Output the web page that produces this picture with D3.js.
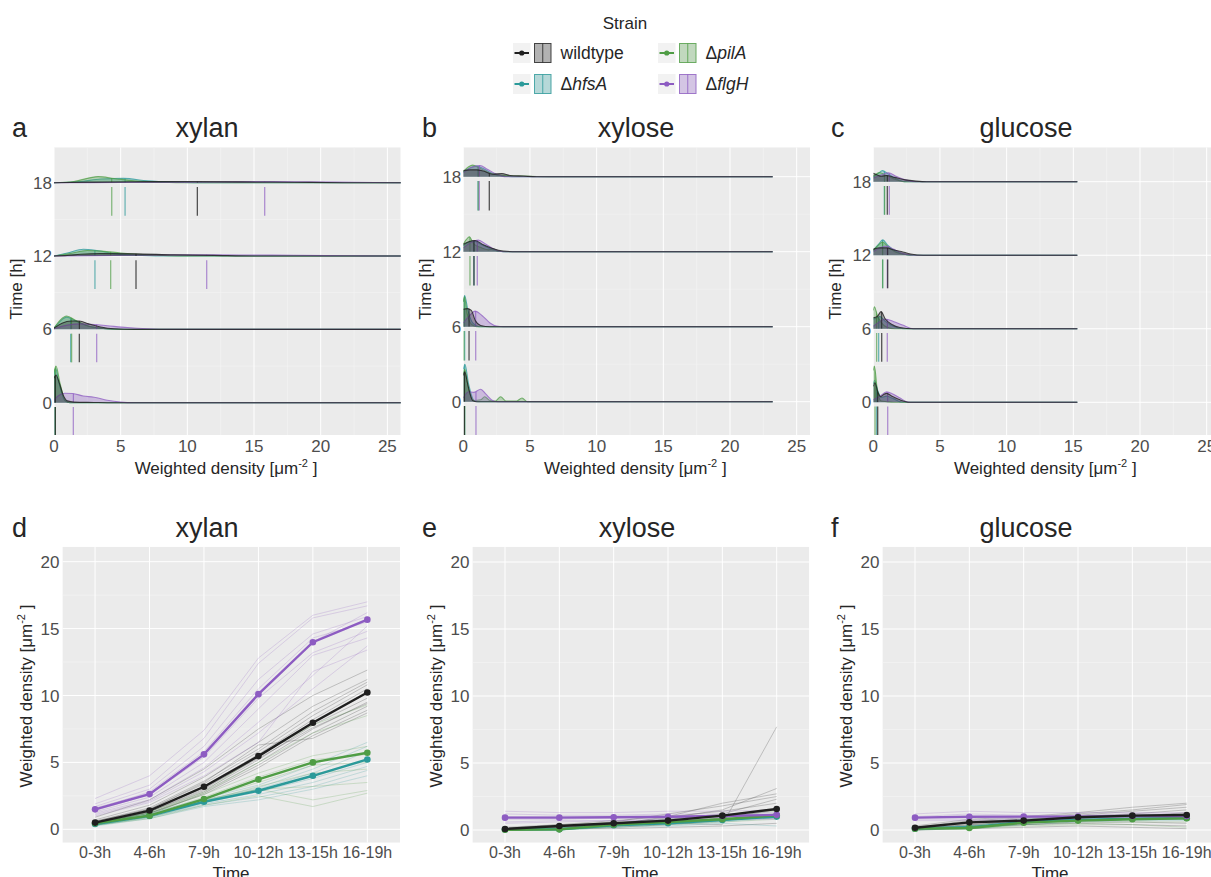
<!DOCTYPE html>
<html lang="en">
<head>
<meta charset="UTF-8">
<title>Weighted density by strain and carbon source</title>
<script src="https://cdnjs.cloudflare.com/ajax/libs/d3/7.8.5/d3.min.js"></script>
<style>
  body { margin: 0; background: #fff; }
  svg { display: block; font-family: "Liberation Sans", Arial, sans-serif; }
  .tick-label { font-size: 17px; fill: #4d4d4d; }
  .bin-label { font-size: 16px; fill: #4d4d4d; }
  .axis-title { font-size: 17px; fill: #262626; }
  .panel-title { font-size: 27px; fill: #262626; }
</style>
</head>
<body>
<svg id="chart" width="1211" height="877"></svg>
<script>
// ---- data ----
const strains = ["wildtype", "hfsA", "pilA", "flgH"];
const strainColors = { wildtype: "#1f1f1f", hfsA: "#2b9a9a", pilA: "#4f9d45", flgH: "#8d5cc2" };
const ridgeTimes = [0, 6, 12, 18];
const ridgeXTicks = [0, 5, 10, 15, 20, 25];
const timeBins = ["0-3h", "4-6h", "7-9h", "10-12h", "13-15h", "16-19h"];
const lineYTicks = [0, 5, 10, 15, 20];

// ridge curves: [x, height in hours-units above the baseline], mean = vertical marker
const ridgeXylan = [
  { strain: "wildtype", time: 0, mean: 0.1, pts: [[0, 2.0], [0.15, 2.27], [0.4, 1.6], [0.7, 0.6], [1.0, 0.15], [1.5, 0.05], [3, 0.02], [4, 0]] },
  { strain: "hfsA", time: 0, mean: 0.08, pts: [[0, 2.3], [0.12, 2.8], [0.4, 1.5], [0.8, 0.2], [1.2, 0]] },
  { strain: "pilA", time: 0, mean: 0.1, pts: [[0, 2.5], [0.15, 3.0], [0.45, 1.6], [0.85, 0.15], [1.2, 0]] },
  { strain: "flgH", time: 0, mean: 1.45, pts: [[0, 0.2], [0.3, 0.55], [0.8, 0.77], [1.4, 0.75], [2.2, 0.55], [3.0, 0.45], [4.0, 0.2], [5.0, 0.05], [6, 0]] },
  { strain: "wildtype", time: 6, mean: 1.9, pts: [[0, 0.1], [0.6, 0.5], [1.3, 0.68], [1.9, 0.68], [2.6, 0.45], [3.5, 0.2], [4.5, 0.05], [6, 0]] },
  { strain: "hfsA", time: 6, mean: 1.25, pts: [[0, 0.1], [0.5, 0.7], [0.95, 1.0], [1.6, 0.7], [2.5, 0.3], [3.5, 0.1], [5, 0]] },
  { strain: "pilA", time: 6, mean: 1.32, pts: [[0, 0.1], [0.5, 0.8], [0.95, 1.09], [1.6, 0.75], [2.5, 0.3], [3.5, 0.1], [5, 0]] },
  { strain: "flgH", time: 6, mean: 3.2, pts: [[0, 0.05], [1, 0.35], [2, 0.45], [3, 0.4], [4, 0.3], [5.5, 0.15], [7, 0.05], [8.5, 0]] },
  { strain: "wildtype", time: 12, mean: 6.15, pts: [[0, 0], [1, 0.05], [2, 0.15], [3.5, 0.2], [6, 0.18], [9, 0.1], [12, 0.05], [15, 0]] },
  { strain: "hfsA", time: 12, mean: 3.07, pts: [[0, 0], [1, 0.25], [2.2, 0.55], [3.2, 0.45], [4.5, 0.2], [6, 0.08], [8, 0]] },
  { strain: "pilA", time: 12, mean: 4.25, pts: [[0, 0], [1.2, 0.2], [2.5, 0.45], [3.6, 0.4], [5, 0.25], [7, 0.1], [10, 0]] },
  { strain: "flgH", time: 12, mean: 11.45, pts: [[0, 0], [3, 0.03], [6, 0.08], [10, 0.1], [14, 0.09], [18, 0.06], [22, 0.02], [25, 0]] },
  { strain: "wildtype", time: 18, mean: 10.75, pts: [[0, 0], [3, 0.05], [6, 0.08], [10, 0.1], [14, 0.07], [18, 0.04], [22, 0]] },
  { strain: "hfsA", time: 18, mean: 5.33, pts: [[0, 0], [2, 0.1], [3.5, 0.3], [5.2, 0.35], [7, 0.15], [9, 0.05], [12, 0]] },
  { strain: "pilA", time: 18, mean: 4.33, pts: [[0, 0], [1.5, 0.1], [3.3, 0.5], [4.5, 0.35], [6, 0.15], [8, 0.05], [10, 0]] },
  { strain: "flgH", time: 18, mean: 15.8, pts: [[0, 0], [5, 0.02], [10, 0.05], [15, 0.09], [18, 0.08], [21, 0.05], [24, 0.02], [26, 0]] }
];

const ridgeXylose = [
  { strain: "wildtype", time: 0, mean: 0.08, pts: [[0, 2.1], [0.1, 2.4], [0.35, 1.3], [0.7, 0.1], [1, 0]] },
  { strain: "hfsA", time: 0, mean: 0.1, pts: [[0, 2.6], [0.12, 3.0], [0.4, 1.4], [0.8, 0.1], [1.1, 0]] },
  { strain: "pilA", time: 0, mean: 0.1, pts: [[0, 2.2], [0.1, 2.6], [0.4, 1.0], [0.8, 0.1], [1.3, 0.15], [1.6, 0.4], [2.0, 0.1], [2.4, 0.05], [2.8, 0.4], [3.2, 0.05], [4.0, 0.05], [4.4, 0.3], [4.8, 0]] },
  { strain: "flgH", time: 0, mean: 0.95, pts: [[0, 0.3], [0.4, 0.8], [0.8, 0.75], [1.3, 1.0], [1.7, 0.6], [2.2, 0.1], [2.6, 0]] },
  { strain: "wildtype", time: 6, mean: 0.43, pts: [[0, 1.4], [0.3, 1.45], [0.6, 1.3], [0.9, 0.5], [1.3, 0.1], [2, 0]] },
  { strain: "hfsA", time: 6, mean: 0.1, pts: [[0, 2.0], [0.1, 2.5], [0.35, 1.3], [0.7, 0.3], [1.2, 0]] },
  { strain: "pilA", time: 6, mean: 0.05, pts: [[0, 2.0], [0.08, 2.4], [0.3, 1.0], [0.6, 0.2], [1.0, 0]] },
  { strain: "flgH", time: 6, mean: 0.93, pts: [[0, 0.3], [0.4, 0.8], [0.88, 1.25], [1.4, 0.9], [2, 0.3], [2.5, 0.05], [3, 0]] },
  { strain: "wildtype", time: 12, mean: 0.8, pts: [[0, 0.6], [0.4, 0.8], [0.88, 0.9], [1.5, 0.55], [2.2, 0.25], [3, 0.05], [4, 0]] },
  { strain: "hfsA", time: 12, mean: 0.8, pts: [[0, 0.5], [0.4, 0.75], [0.8, 0.85], [1.4, 0.55], [2.2, 0.15], [3, 0]] },
  { strain: "pilA", time: 12, mean: 0.5, pts: [[0, 0.6], [0.25, 1.0], [0.45, 1.2], [0.8, 0.6], [1.4, 0.3], [1.9, 0.15], [2.2, 0.25], [2.6, 0.05], [3.2, 0]] },
  { strain: "flgH", time: 12, mean: 1.05, pts: [[0, 0.3], [0.5, 0.7], [1.13, 0.93], [1.7, 0.6], [2.4, 0.15], [3, 0]] },
  { strain: "wildtype", time: 18, mean: 1.95, pts: [[0, 0.5], [0.5, 0.55], [1.0, 0.55], [1.5, 0.45], [2.2, 0.2], [2.9, 0.25], [3.5, 0.1], [4.5, 0.05], [5.5, 0]] },
  { strain: "hfsA", time: 18, mean: 1.1, pts: [[0, 0.4], [0.5, 0.7], [1.0, 0.85], [1.5, 0.65], [2.2, 0.25], [3, 0.05], [4, 0]] },
  { strain: "pilA", time: 18, mean: 1.13, pts: [[0, 0.4], [0.4, 0.8], [0.7, 0.93], [1.2, 0.7], [2, 0.3], [3, 0.1], [4.5, 0.05], [6.7, 0]] },
  { strain: "flgH", time: 18, mean: 1.2, pts: [[0, 0.3], [0.6, 0.75], [1.25, 0.9], [1.8, 0.6], [2.5, 0.2], [3.2, 0]] }
];

const ridgeGlucose = [
  { strain: "wildtype", time: 0, mean: 0.33, pts: [[0, 1.3], [0.12, 1.6], [0.35, 0.8], [0.55, 0.45], [0.8, 0.65], [1.0, 0.73], [1.4, 0.5], [2.0, 0.2], [2.75, 0]] },
  { strain: "hfsA", time: 0, mean: 0.25, pts: [[0, 1.5], [0.1, 1.8], [0.35, 0.9], [0.6, 0.4], [1.0, 0.5], [1.5, 0.3], [2.2, 0]] },
  { strain: "pilA", time: 0, mean: 0.13, pts: [[0, 2.6], [0.08, 2.95], [0.3, 1.0], [0.6, 0.1], [1.0, 0.05], [1.5, 0]] },
  { strain: "flgH", time: 0, mean: 1.08, pts: [[0, 0.2], [0.5, 0.5], [1.0, 0.85], [1.5, 0.65], [2.0, 0.35], [2.5, 0.05], [3, 0]] },
  { strain: "wildtype", time: 6, mean: 0.63, pts: [[0, 0.9], [0.3, 1.0], [0.58, 1.4], [0.9, 0.8], [1.4, 0.35], [2, 0.1], [3, 0]] },
  { strain: "hfsA", time: 6, mean: 0.4, pts: [[0, 0.8], [0.3, 0.9], [0.5, 1.0], [0.9, 0.6], [1.5, 0.2], [2.3, 0]] },
  { strain: "pilA", time: 6, mean: 0.25, pts: [[0, 1.5], [0.08, 1.8], [0.3, 1.1], [0.6, 0.5], [1.0, 0.15], [1.6, 0]] },
  { strain: "flgH", time: 6, mean: 1.05, pts: [[0, 0.2], [0.5, 0.6], [0.88, 0.8], [1.5, 0.6], [2.2, 0.3], [3.0, 0]] },
  { strain: "wildtype", time: 12, mean: 1.08, pts: [[0, 0.5], [0.5, 0.6], [1.0, 0.6], [1.5, 0.45], [2.1, 0.3], [2.8, 0.1], [3.75, 0]] },
  { strain: "hfsA", time: 12, mean: 0.7, pts: [[0, 0.4], [0.4, 0.9], [0.7, 1.25], [1.1, 0.8], [1.7, 0.3], [2.5, 0.05], [3, 0]] },
  { strain: "pilA", time: 12, mean: 0.7, pts: [[0, 0.4], [0.4, 0.85], [0.7, 1.08], [1.1, 0.7], [1.7, 0.25], [2.5, 0.05], [3, 0]] },
  { strain: "flgH", time: 12, mean: 1.05, pts: [[0, 0.3], [0.5, 0.6], [1.0, 0.75], [1.5, 0.5], [2.2, 0.15], [3, 0]] },
  { strain: "wildtype", time: 18, mean: 1.05, pts: [[0, 0.68], [0.3, 0.55], [0.6, 0.45], [1.0, 0.5], [1.6, 0.35], [2.4, 0.15], [3.2, 0.05], [4, 0]] },
  { strain: "hfsA", time: 18, mean: 0.83, pts: [[0, 0.4], [0.4, 0.7], [0.68, 0.9], [1.1, 0.65], [1.7, 0.25], [2.5, 0]] },
  { strain: "pilA", time: 18, mean: 0.85, pts: [[0, 0.5], [0.25, 0.65], [0.45, 0.75], [0.9, 0.55], [1.5, 0.25], [2.3, 0]] },
  { strain: "flgH", time: 18, mean: 1.2, pts: [[0, 0.3], [0.6, 0.55], [1.13, 0.73], [1.7, 0.45], [2.4, 0.15], [3.2, 0]] }
];

// strain means per time bin (bold lines)
const meanXylan = {
  wildtype: [0.5, 1.4, 3.18, 5.47, 7.96, 10.22],
  hfsA: [0.4, 1.0, 2.06, 2.88, 4.0, 5.22],
  pilA: [0.45, 1.02, 2.26, 3.73, 5.0, 5.72],
  flgH: [1.49, 2.63, 5.6, 10.1, 13.98, 15.67]
};
const meanXylose = {
  wildtype: [0.08, 0.3, 0.5, 0.7, 1.07, 1.57],
  hfsA: [0.03, 0.06, 0.35, 0.5, 0.75, 1.0],
  pilA: [0.02, 0.05, 0.4, 0.6, 0.8, 1.1],
  flgH: [0.92, 0.92, 0.95, 0.99, 1.05, 1.13]
};
const meanGlucose = {
  wildtype: [0.17, 0.57, 0.7, 0.95, 1.07, 1.12],
  hfsA: [0.1, 0.2, 0.6, 0.75, 0.85, 0.9],
  pilA: [0.1, 0.15, 0.55, 0.7, 0.8, 0.88],
  flgH: [0.92, 0.99, 1.0, 1.0, 1.05, 1.05]
};

// single-experiment traces (thin lines)
const tracesXylan = {
  wildtype: [
    [0.9, 2.2, 4.5, 7.5, 10.0, 11.9], [0.7, 1.8, 3.9, 6.5, 9.2, 11.2], [0.6, 1.6, 3.6, 6.0, 8.8, 11.0],
    [0.55, 1.5, 3.4, 5.8, 8.5, 10.8], [0.5, 1.4, 3.2, 5.6, 8.2, 10.5], [0.45, 1.3, 3.0, 5.4, 8.0, 10.2],
    [0.4, 1.3, 2.9, 5.2, 7.8, 9.8], [0.5, 1.2, 2.8, 5.0, 7.5, 9.5], [0.35, 1.1, 2.7, 4.8, 7.2, 9.2],
    [0.4, 1.2, 2.6, 4.6, 7.0, 8.9], [0.6, 1.5, 3.5, 6.3, 6.8, 8.7], [0.5, 1.4, 3.1, 5.3, 7.6, 9.4]
  ],
  hfsA: [
    [0.5, 1.2, 2.3, 3.3, 4.8, 6.5], [0.45, 1.1, 2.2, 3.1, 4.5, 6.2], [0.4, 1.0, 2.1, 3.0, 4.2, 5.8],
    [0.35, 1.0, 2.0, 2.8, 3.8, 5.0], [0.3, 0.9, 1.9, 2.6, 3.5, 4.7], [0.3, 0.9, 1.8, 2.4, 3.2, 4.4],
    [0.25, 0.8, 1.7, 2.2, 3.0, 4.0]
  ],
  pilA: [
    [0.5, 1.2, 2.6, 4.2, 5.5, 6.2], [0.45, 1.1, 2.4, 3.9, 5.2, 5.6], [0.4, 1.0, 2.3, 3.5, 4.8, 5.0],
    [0.35, 1.0, 2.1, 3.2, 4.2, 4.5], [0.3, 0.9, 2.0, 3.0, 3.2, 3.5], [0.4, 1.0, 2.2, 3.0, 2.2, 2.9],
    [0.3, 0.8, 1.8, 2.5, 1.7, 2.7], [0.5, 1.3, 2.8, 5.5, 7.8, 9.3], [0.45, 1.2, 2.7, 5.0, 7.2, 8.5]
  ],
  flgH: [
    [2.3, 4.0, 7.4, 12.8, 16.0, 17.0], [1.9, 3.3, 6.8, 12.4, 15.8, 16.7], [1.7, 3.0, 6.2, 11.2, 14.6, 15.9],
    [1.5, 2.8, 5.8, 10.5, 14.3, 15.5], [1.4, 2.6, 5.4, 9.8, 13.2, 14.8], [1.3, 2.4, 5.0, 9.0, 13.0, 14.3],
    [1.2, 2.2, 4.6, 8.0, 11.5, 15.2], [1.1, 2.1, 4.3, 7.2, 10.5, 13.7], [1.0, 2.0, 4.0, 6.5, 11.8, 13.4],
    [1.6, 2.7, 5.6, 10.0, 14.0, 16.2]
  ]
};
const tracesXylose = {
  wildtype: [
    [0.1, 0.3, 0.5, 0.9, 1.5, 3.1], [0.05, 0.2, 0.4, 1.0, 2.0, 2.7], [0.1, 0.3, 0.6, 1.2, 1.8, 2.5],
    [0.0, 0.2, 0.4, 0.8, 1.2, 2.3], [0.1, 0.4, 0.7, 1.0, 1.4, 2.0], [0.0, 0.1, 0.3, 0.5, 0.4, 7.7],
    [0.1, 0.2, 0.4, 0.6, 0.9, 1.5], [0.0, 0.1, 0.2, 0.4, 0.7, 1.2], [0.2, 0.4, 0.5, 0.6, 0.8, 0.9],
    [0.0, 0.1, 0.1, 0.2, 0.3, 0.5]
  ],
  hfsA: [
    [0.0, 0.1, 0.4, 0.6, 0.8, 1.1], [0.0, 0.05, 0.3, 0.4, 0.6, 0.9], [0.1, 0.1, 0.35, 0.5, 0.8, 1.0],
    [0.0, 0.0, 0.2, 0.3, 0.5, 0.3]
  ],
  pilA: [
    [0.0, 0.1, 0.5, 0.8, 1.0, 1.4], [0.0, 0.0, 0.3, 0.5, 0.7, 1.0], [0.05, 0.1, 0.4, 0.6, 0.9, 1.2],
    [0.0, 0.0, 0.2, 0.4, 0.6, 0.8]
  ],
  flgH: [
    [1.4, 1.3, 1.3, 1.4, 1.4, 1.5], [1.2, 1.1, 1.1, 1.2, 1.2, 1.3], [1.0, 1.0, 1.0, 1.0, 1.1, 1.2],
    [0.8, 0.8, 0.9, 0.9, 1.0, 1.0], [0.6, 0.7, 0.7, 0.8, 0.9, 0.9], [0.5, 0.6, 0.7, 0.7, 0.8, 0.8]
  ]
};
const tracesGlucose = {
  wildtype: [
    [0.3, 0.8, 1.0, 1.3, 1.7, 2.0], [0.2, 0.7, 0.9, 1.2, 1.5, 1.9], [0.1, 0.6, 0.8, 1.1, 1.4, 1.7],
    [0.2, 0.5, 0.7, 1.0, 1.2, 1.5], [0.1, 0.4, 0.6, 0.9, 1.0, 1.3], [0.0, 0.3, 0.5, 0.8, 0.9, 1.0],
    [0.1, 0.4, 0.6, 0.7, 0.8, 0.8], [0.0, 0.2, 0.4, 0.6, 0.6, 0.5], [0.1, 0.3, 0.4, 0.5, 0.4, 0.3],
    [0.0, 0.1, 0.2, 0.3, 0.2, 0.1]
  ],
  hfsA: [
    [0.2, 0.3, 0.8, 0.9, 1.0, 1.1], [0.1, 0.2, 0.6, 0.7, 0.8, 0.9], [0.0, 0.1, 0.4, 0.6, 0.7, 0.7]
  ],
  pilA: [
    [0.2, 0.3, 0.8, 1.0, 1.1, 1.2], [0.1, 0.1, 0.5, 0.7, 0.8, 0.9], [0.0, 0.1, 0.4, 0.5, 0.6, 0.6],
    [0.1, 0.1, 0.3, 0.4, 0.4, 0.2]
  ],
  flgH: [
    [1.2, 1.4, 1.3, 1.3, 1.3, 1.3], [1.0, 1.2, 1.1, 1.1, 1.2, 1.2], [0.9, 1.0, 1.0, 1.0, 1.0, 1.1],
    [0.8, 0.8, 0.9, 0.9, 0.9, 1.0], [0.7, 0.7, 0.8, 0.8, 0.8, 0.9]
  ]
};

// ---- drawing ----
const W = 1211, H = 877;
const svg = d3.select("#chart");
const drawOrder = ["hfsA", "pilA", "flgH", "wildtype"];

function unitTitle(text) {
    text.append("tspan").text("Weighted density [μm");
    text.append("tspan").attr("dy", -7).attr("font-size", 11).text("-2");
    text.append("tspan").attr("dy", 7).text(" ]");
}

function panelHeader(letter, title, letterX, titleX, baseline) {
    svg.append("text").attr("class", "panel-title").attr("x", letterX).attr("y", baseline).text(letter);
    svg.append("text").attr("class", "panel-title").attr("x", titleX).attr("y", baseline)
        .attr("text-anchor", "middle").text(title);
}

function drawRidgePanel(p) {
    const top = 147.3, bottom = 435;
    const x = d3.scaleLinear().domain([0, 26]).range([p.left, p.left + 346.7]);
    const y = d3.scaleLinear().domain([0, 18]).range([p.base0, p.base18]);
    const right = Math.min(x(26), W);
    const clipId = "clip-" + p.letter;

    svg.append("clipPath").attr("id", clipId).append("rect")
        .attr("x", p.left).attr("y", top).attr("width", right - p.left).attr("height", bottom - top);

    const g = svg.append("g").attr("clip-path", `url(#${clipId})`);
    g.append("rect").attr("x", p.left).attr("y", top).attr("width", right - p.left)
        .attr("height", bottom - top).attr("fill", "#ebebeb");

    // grid
    d3.range(2.5, 26, 5).forEach(v => g.append("line").attr("x1", x(v)).attr("x2", x(v))
        .attr("y1", top).attr("y2", bottom).attr("stroke", "#f5f5f5").attr("stroke-width", 0.6));
    [3, 9, 15].forEach(v => g.append("line").attr("x1", p.left).attr("x2", right)
        .attr("y1", y(v)).attr("y2", y(v)).attr("stroke", "#f5f5f5").attr("stroke-width", 0.6));
    ridgeXTicks.forEach(v => g.append("line").attr("x1", x(v)).attr("x2", x(v))
        .attr("y1", top).attr("y2", bottom).attr("stroke", "#fff").attr("stroke-width", 1));
    ridgeTimes.forEach(v => g.append("line").attr("x1", p.left).attr("x2", right)
        .attr("y1", y(v)).attr("y2", y(v)).attr("stroke", "#fff").attr("stroke-width", 1));

    const times = ridgeTimes.slice().reverse();
    times.forEach(t => {
        drawOrder.forEach(s => {
            const r = p.data.find(d => d.time === t && d.strain === s);
            if (!r) return;
            const pts = r.pts.concat([[p.xmax, 0]]);
            const col = strainColors[s];
            const area = d3.area().x(d => x(d[0])).y0(y(t)).y1(d => y(t + d[1])).curve(d3.curveMonotoneX);
            const line = d3.line().x(d => x(d[0])).y(d => y(t + d[1])).curve(d3.curveMonotoneX);
            const areaId = `ridge-${p.letter}-${t}-${s}`;

            g.append("clipPath").attr("id", areaId).append("path").attr("d", area(pts));
            g.append("path").attr("d", area(pts)).attr("fill", col).attr("fill-opacity", 0.33);
            // mean marker inside the ridge
            g.append("line").attr("clip-path", `url(#${areaId})`)
                .attr("x1", x(r.mean)).attr("x2", x(r.mean)).attr("y1", y(t)).attr("y2", y(t + 4))
                .attr("stroke", col).attr("stroke-opacity", 0.85).attr("stroke-width", 1);
            g.append("path").attr("d", line(pts)).attr("fill", "none")
                .attr("stroke", col).attr("stroke-opacity", s === "wildtype" ? 0.8 : 0.75).attr("stroke-width", 1.1);
            // mean marker below the baseline
            g.append("line").attr("x1", x(r.mean)).attr("x2", x(r.mean))
                .attr("y1", y(t - 0.35)).attr("y2", y(t - 2.7))
                .attr("stroke", col).attr("stroke-opacity", s === "wildtype" ? 0.75 : 0.65).attr("stroke-width", 1.3);
        });
    });

    // axes labels
    ridgeXTicks.forEach(v => {
        if (x(v) > W) return;
        svg.append("text").attr("class", "tick-label").attr("x", x(v)).attr("y", 452)
            .attr("text-anchor", "middle").text(v);
    });
    ridgeTimes.forEach(v => svg.append("text").attr("class", "tick-label")
        .attr("x", p.left - 2).attr("y", y(v) + 6).attr("text-anchor", "end").text(v));

    svg.append("text").attr("class", "axis-title")
        .attr("transform", `translate(${p.left - 32},289) rotate(-90)`)
        .attr("text-anchor", "middle").text("Time [h]");
    unitTitle(svg.append("text").attr("class", "axis-title")
        .attr("x", p.left + 172).attr("y", 474).attr("text-anchor", "middle"));

    panelHeader(p.letter, p.title, p.letterX, p.titleX, 137);
}

function drawLinePanel(p) {
    const top = 546.7, bottom = 842.7;
    const x = d3.scalePoint().domain(timeBins).range([p.left, p.right]).padding(0.6);
    const y = d3.scaleLinear().domain([0, 20]).range([p.y0, p.y20]);
    const right = Math.min(p.right, W);
    const clipId = "clip-" + p.letter;

    svg.append("clipPath").attr("id", clipId).append("rect")
        .attr("x", p.left).attr("y", top).attr("width", right - p.left).attr("height", bottom - top);
    const g = svg.append("g").attr("clip-path", `url(#${clipId})`);

    g.append("rect").attr("x", p.left).attr("y", top).attr("width", right - p.left)
        .attr("height", bottom - top).attr("fill", "#ebebeb");
    [2.5, 7.5, 12.5, 17.5].forEach(v => g.append("line").attr("x1", p.left).attr("x2", right)
        .attr("y1", y(v)).attr("y2", y(v)).attr("stroke", "#f5f5f5").attr("stroke-width", 0.6));
    lineYTicks.forEach(v => g.append("line").attr("x1", p.left).attr("x2", right)
        .attr("y1", y(v)).attr("y2", y(v)).attr("stroke", "#fff").attr("stroke-width", 1));
    timeBins.forEach(c => g.append("line").attr("x1", x(c)).attr("x2", x(c))
        .attr("y1", top).attr("y2", bottom).attr("stroke", "#fff").attr("stroke-width", 1));

    const line = d3.line().x((d, i) => x(timeBins[i])).y(d => y(d));

    ["wildtype", "hfsA", "pilA", "flgH"].forEach(s => {
        p.traces[s].forEach(tr => g.append("path").attr("d", line(tr)).attr("fill", "none")
            .attr("stroke", strainColors[s]).attr("stroke-opacity", 0.25).attr("stroke-width", 0.9));
    });
    drawOrder.forEach(s => {
        const col = strainColors[s];
        g.append("path").attr("d", line(p.means[s])).attr("fill", "none")
            .attr("stroke", col).attr("stroke-width", 2.4);
        g.selectAll(null).data(p.means[s]).join("circle")
            .attr("cx", (d, i) => x(timeBins[i])).attr("cy", d => y(d)).attr("r", 3.3).attr("fill", col);
    });

    timeBins.forEach(c => svg.append("text").attr("class", "bin-label")
        .attr("x", x(c)).attr("y", 858).attr("text-anchor", "middle").text(c));
    lineYTicks.forEach(v => svg.append("text").attr("class", "tick-label")
        .attr("x", p.left - 3).attr("y", y(v) + 6).attr("text-anchor", "end").text(v));

    unitTitle(svg.append("text").attr("class", "axis-title")
        .attr("transform", `translate(${p.left - 30},696) rotate(-90)`).attr("text-anchor", "middle"));
    svg.append("text").attr("class", "axis-title").attr("x", p.timeX).attr("y", 879)
        .attr("text-anchor", "middle").text("Time");

    panelHeader(p.letter, p.title, p.letterX, p.titleX, 537);
}

drawRidgePanel({ letter: "a", title: "xylan", data: ridgeXylan, left: 54, base0: 402.7, base18: 182.7, xmax: 27, letterX: 12, titleX: 207 });
drawRidgePanel({ letter: "b", title: "xylose", data: ridgeXylose, left: 463.3, base0: 401.7, base18: 176.7, xmax: 23.2, letterX: 422, titleX: 636 });
drawRidgePanel({ letter: "c", title: "glucose", data: ridgeGlucose, left: 873.3, base0: 402.3, base18: 181.7, xmax: 15.3, letterX: 831, titleX: 1026 });

drawLinePanel({ letter: "d", title: "xylan", means: meanXylan, traces: tracesXylan, left: 62.4, right: 400, y0: 829.3, y20: 561.7, timeX: 231, letterX: 12, titleX: 207 });
drawLinePanel({ letter: "e", title: "xylose", means: meanXylose, traces: tracesXylose, left: 472.4, right: 809.3, y0: 830, y20: 562, timeX: 640, letterX: 422, titleX: 637 });
drawLinePanel({ letter: "f", title: "glucose", means: meanGlucose, traces: tracesGlucose, left: 882.4, right: 1219.3, y0: 830, y20: 562, timeX: 1050, letterX: 831, titleX: 1026 });

// ---- legend ----
const legend = svg.append("g");
legend.append("text").attr("x", 625).attr("y", 29).attr("text-anchor", "middle")
    .attr("font-size", 17).attr("fill", "#262626").text("Strain");
const legendPos = { wildtype: [513, 53], hfsA: [513, 84], pilA: [658, 53], flgH: [658, 84] };
strains.forEach(s => {
    const [lx, ly] = legendPos[s];
    const col = strainColors[s];
    const item = legend.append("g").attr("transform", `translate(${lx},${ly})`);
    item.append("rect").attr("x", 0).attr("y", -10).attr("width", 17.5).attr("height", 20).attr("fill", "#f2f2f2");
    item.append("line").attr("x1", 1.5).attr("x2", 16).attr("y1", 0).attr("y2", 0).attr("stroke", col).attr("stroke-width", 2);
    item.append("circle").attr("cx", 8.75).attr("cy", 0).attr("r", 2.6).attr("fill", col);
    item.append("rect").attr("x", 21).attr("y", -10).attr("width", 17.5).attr("height", 20).attr("fill", "#f2f2f2");
    item.append("rect").attr("x", 21.5).attr("y", -9.5).attr("width", 16.5).attr("height", 19)
        .attr("fill", col).attr("fill-opacity", 0.3).attr("stroke", col).attr("stroke-opacity", 0.8);
    item.append("line").attr("x1", 29.75).attr("x2", 29.75).attr("y1", -9.5).attr("y2", 9.5)
        .attr("stroke", col).attr("stroke-opacity", 0.8);
    const label = item.append("text").attr("x", 47.5).attr("y", 6).attr("font-size", 17.5).attr("fill", "#262626");
    if (s === "wildtype") {
        label.text(s);
    } else {
        label.append("tspan").text("Δ");
        label.append("tspan").attr("font-style", "italic").text(s);
    }
});
</script>
</body>
</html>
